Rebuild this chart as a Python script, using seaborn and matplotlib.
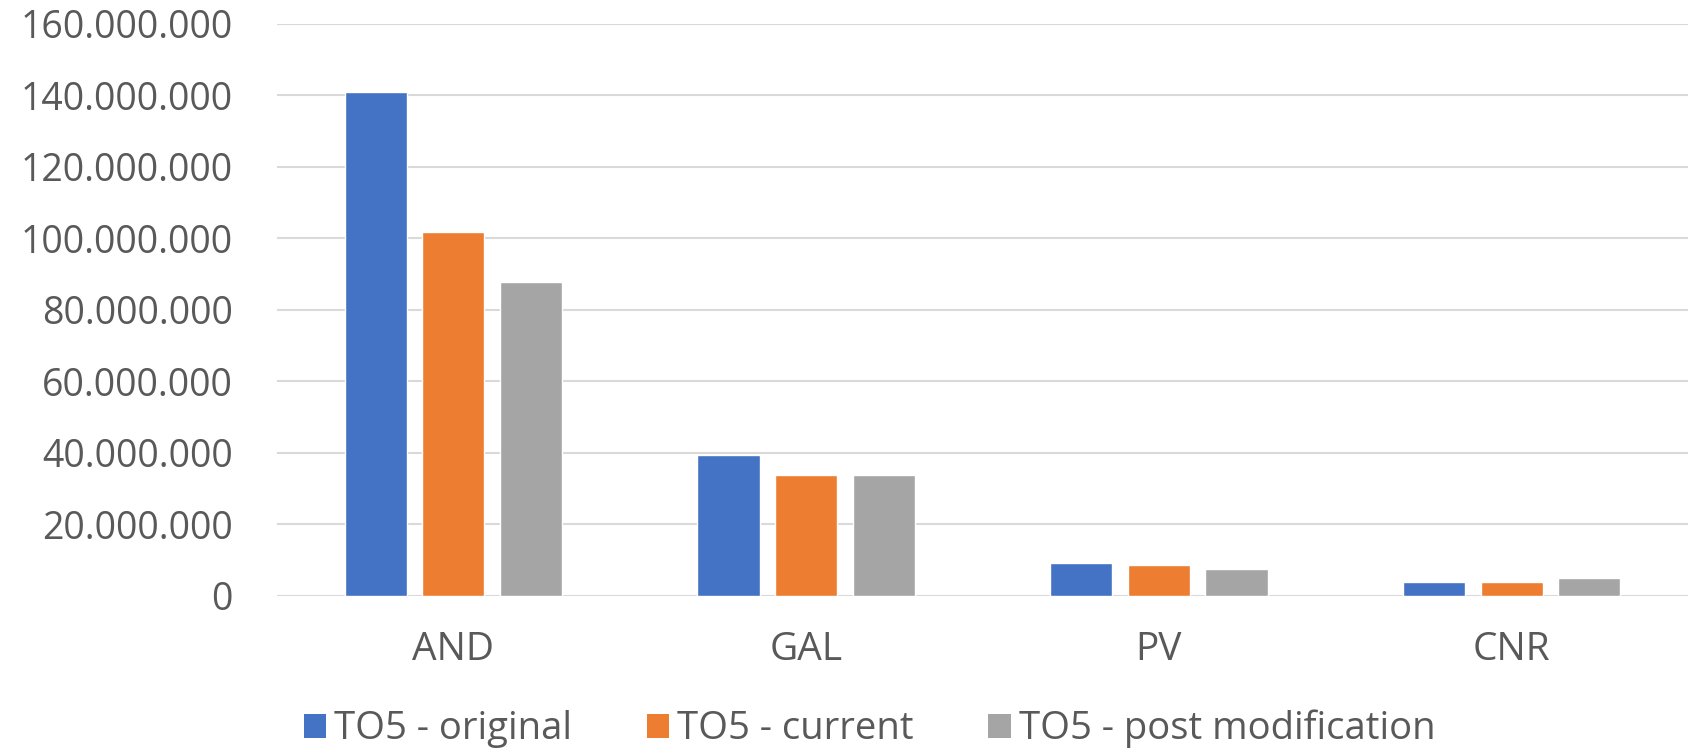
import matplotlib
matplotlib.use("Agg")
import matplotlib.pyplot as plt
import matplotlib.ticker as mticker
from matplotlib.patches import Patch
import seaborn as sns
import pandas as pd

regions = ["AND", "GAL", "PV", "CNR"]
series = ["TO5 - original", "TO5 - current", "TO5 - post modification"]
original = [141_000_000, 39_300_000, 9_200_000, 3_800_000]
current = [101_700_000, 33_700_000, 8_600_000, 3_800_000]
post_mod = [87_800_000, 33_700_000, 7_500_000, 5_000_000]
colors = ["#4472C4", "#ED7D31", "#A5A5A5"]

rows = []
for name, vals in zip(series, [original, current, post_mod]):
    for r, v in zip(regions, vals):
        rows.append({"region": r, "series": name, "value": v})
df = pd.DataFrame(rows)

sns.set_style("white")
plt.rcParams["font.family"] = ["Open Sans", "DejaVu Sans"]
text_col = "#595959"

fig = plt.figure(figsize=(16.92, 7.5), dpi=100)
ax = fig.add_axes([277 / 1692, 1 - 596 / 750, (1688 - 277) / 1692, (596 - 23.7) / 750])

sns.barplot(data=df, x="region", y="value", hue="series", order=regions,
            hue_order=series, palette=colors, width=0.66, gap=0.2,
            saturation=1, ax=ax, legend=False, zorder=3)

ax.set_ylim(0, 160_000_000)
ax.set_xlim(-0.5, len(regions) - 0.5)
ax.yaxis.set_major_locator(mticker.MultipleLocator(20_000_000))
ax.yaxis.set_major_formatter(mticker.FuncFormatter(lambda v, p: f"{int(v):,}".replace(",", ".")))
ax.grid(axis="y", color="#D9D9D9", linewidth=1.5, zorder=0)
ax.set_axisbelow(True)
for s in ax.spines.values():
    s.set_visible(False)
ax.set_xlabel("")
ax.set_ylabel("")
ax.tick_params(axis="y", length=0, pad=32, labelsize=27, labelcolor=text_col)
ax.tick_params(axis="x", length=0, pad=25, labelsize=28, labelcolor=text_col)

handles = [Patch(facecolor=c, edgecolor="none") for c in colors]
fig.legend(handles, series, loc="center", bbox_to_anchor=(0.514, 1 - 729 / 750),
           ncol=3, frameon=False, fontsize=27.5, labelcolor=text_col,
           handlelength=0.58, handleheight=0.58, handletextpad=0.22,
           columnspacing=1.95, borderaxespad=0, borderpad=0.1)

fig.savefig("out.png", dpi=100)
